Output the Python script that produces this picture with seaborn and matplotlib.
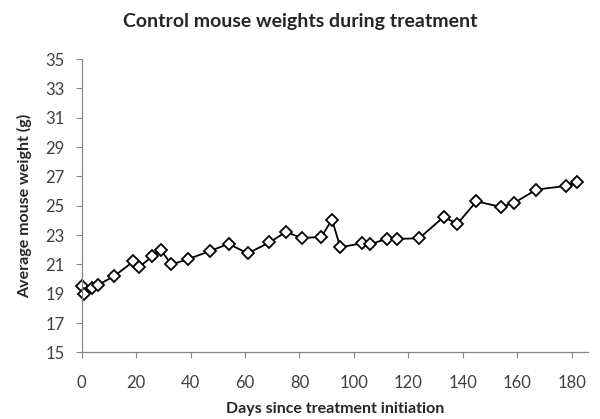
import numpy as np
import pandas as pd
import matplotlib
matplotlib.use("Agg")
import matplotlib.pyplot as plt
import seaborn as sns

# Data
days = [0, 1, 4, 6, 12, 19, 21, 26, 29, 33, 39, 47, 54, 61, 69, 75, 81, 88, 92, 95,
        103, 106, 112, 116, 124, 133, 138, 145, 154, 159, 167, 178, 182]
weights = [19.5, 19.0, 19.4, 19.6, 20.2, 21.2, 20.8, 21.55, 22.0, 21.0, 21.35, 21.9,
           22.4, 21.75, 22.5, 23.2, 22.8, 22.87, 24.05, 22.17, 22.44, 22.37, 22.74,
           22.74, 22.78, 24.24, 23.76, 25.3, 24.92, 25.2, 26.1, 26.35, 26.6]
y_ticks = [15, 17, 19, 21, 23, 25, 27, 29, 31, 33, 35]
x_ticks = [0, 20, 40, 60, 80, 100, 120, 140, 160, 180]

sns.set_style("white")
plt.rcParams["font.family"] = ["Lato", "DejaVu Sans"]

df = pd.DataFrame({"day": days, "weight": weights})

fig = plt.figure(figsize=(6.0, 4.19), dpi=100)
ax = fig.add_axes([0.136, 0.159, 0.844, 0.700])

sns.lineplot(data=df, x="day", y="weight", ax=ax, color="black", lw=1.3,
             marker="D", markersize=6, markerfacecolor="white",
             markeredgecolor="black", markeredgewidth=1.3, clip_on=False)

ax.set_xlim(0, 186)
ax.set_ylim(15, 35)
ax.set_xticks(x_ticks)
ax.set_yticks(y_ticks)
ax.tick_params(axis="both", labelsize=12, colors="#404040", length=4,
               width=0.8, direction="out", color="#868686")
ax.tick_params(axis="x", pad=12)
ax.tick_params(axis="y", pad=8)
ax.tick_params(axis="both", which="both", bottom=True, left=True)
for s in ["top", "right"]:
    ax.spines[s].set_visible(False)
for s in ["left", "bottom"]:
    ax.spines[s].set_color("#868686")
    ax.spines[s].set_linewidth(0.9)

ax.set_xlabel("Days since treatment initiation", fontsize=11.5, fontweight="bold", labelpad=8)
ax.set_ylabel("Average mouse weight (g)", fontsize=11.5, fontweight="bold", labelpad=10)
fig.suptitle("Control mouse weights during treatment", fontsize=14,
             fontweight="bold", x=0.5, y=0.968)

fig.savefig("out.png", dpi=100)
plt.close(fig)
